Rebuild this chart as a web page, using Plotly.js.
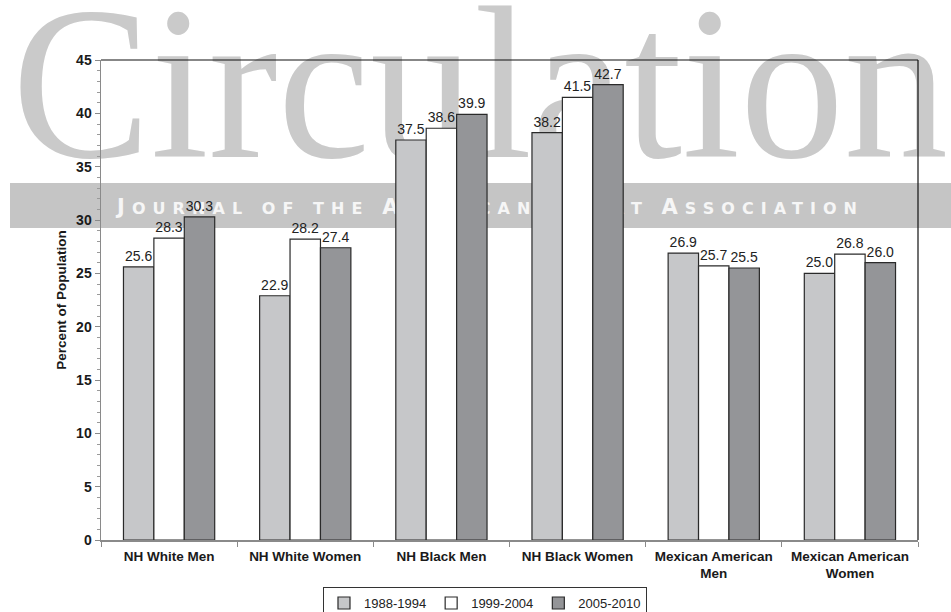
<!DOCTYPE html>
<html>
<head>
<meta charset="utf-8">
<script src="https://cdn.plot.ly/plotly-3.0.1.min.js"></script>
<style>
  html, body { margin: 0; padding: 0; background: #ffffff; }
  #wrap { position: relative; width: 951px; height: 612px; overflow: hidden; }
  #wm { position: absolute; left: 0; top: 0; z-index: 0; }
  #chart { position: absolute; left: 0; top: 0; width: 951px; height: 612px; z-index: 1; }
</style>
</head>
<body>
<div id="wrap">
  <svg id="wm" width="951" height="612" xmlns="http://www.w3.org/2000/svg">
    <text x="12" y="157" font-family="Liberation Serif, Times New Roman, serif" font-size="218" fill="#cacaca" textLength="936" lengthAdjust="spacingAndGlyphs">Circulation</text>
    <rect x="10" y="183" width="941" height="45" fill="#c5c5c5"/>
    <text x="117" y="214" font-family="DejaVu Sans, sans-serif" font-weight="bold" fill="#f6f6f6" textLength="740" lengthAdjust="spacing"><tspan font-size="21">J</tspan><tspan font-size="16">OURNAL OF THE </tspan><tspan font-size="21">A</tspan><tspan font-size="16">MERICAN </tspan><tspan font-size="21">H</tspan><tspan font-size="16">EART </tspan><tspan font-size="21">A</tspan><tspan font-size="16">SSOCIATION</tspan></text>
  </svg>
  <div id="chart"></div>
</div>
<script>
// ---- data ----
const categories = ["NH White Men", "NH White Women", "NH Black Men", "NH Black Women", "Mexican American<br>Men", "Mexican American<br>Women"];
const seriesNames = ["1988-1994", "1999-2004", "2005-2010"];
const values1988 = [25.6, 22.9, 37.5, 38.2, 26.9, 25.0];
const values1999 = [28.3, 28.2, 38.6, 41.5, 25.7, 26.8];
const values2005 = [30.3, 27.4, 39.9, 42.7, 25.5, 26.0];
const yTitle = "Percent of Population";

const colors = ["#c6c7c9", "#ffffff", "#949598"];
const allValues = [values1988, values1999, values2005];
const FONT = "Liberation Sans, Arial, sans-serif";

const traces = allValues.map((vals, i) => ({
  type: "bar",
  name: seriesNames[i],
  x: categories,
  y: vals,
  marker: { color: colors[i], line: { color: "#2a2a2a", width: 1.2 } },
  texttemplate: "%{y:.1f}",
  textposition: "outside",
  textfont: { family: FONT, size: 14, color: "#222222" },
  cliponaxis: false,
  hoverinfo: "x+y+name"
}));

const layout = {
  width: 951,
  height: 612,
  margin: { l: 101, r: 33, t: 60, b: 72, autoexpand: false },
  paper_bgcolor: "rgba(0,0,0,0)",
  plot_bgcolor: "rgba(0,0,0,0)",
  barmode: "group",
  bargap: 0.33,
  bargroupgap: 0,
  font: { family: FONT, color: "#222222" },
  xaxis: {
    type: "category",
    showline: true,
    linecolor: "#8a8a8a",
    linewidth: 1.5,
    ticks: "outside",
    tickson: "boundaries",
    ticklen: 5,
    tickcolor: "#8a8a8a",
    ticklabelstandoff: 3,
    tickfont: { family: FONT, size: 13.5, color: "#1a1a1a", weight: "bold" },
    showgrid: false,
    zeroline: false,
    automargin: false
  },
  yaxis: {
    range: [0, 45],
    dtick: 5,
    tick0: 0,
    showline: true,
    linecolor: "#8a8a8a",
    linewidth: 1.5,
    ticks: "outside",
    ticklen: 5,
    tickcolor: "#8a8a8a",
    minor: { dtick: 1, ticks: "outside", ticklen: 3, tickcolor: "#9a9a9a", showgrid: false },
    tickfont: { family: FONT, size: 14, color: "#1a1a1a", weight: "bold" },
    showgrid: false,
    zeroline: false,
    automargin: false,
    title: { text: yTitle, font: { family: FONT, size: 13.5, color: "#1a1a1a", weight: "bold" }, standoff: 6 }
  },
  showlegend: true,
  legend: {
    orientation: "h",
    x: 0.47,
    xanchor: "center",
    y: -0.098,
    yanchor: "top",
    bgcolor: "#ffffff",
    bordercolor: "#333333",
    borderwidth: 1,
    itemwidth: 30,
    font: { family: FONT, size: 13, color: "#222222" },
    traceorder: "normal"
  },
  shapes: [
    { type: "line", xref: "paper", yref: "paper", x0: 0, x1: 1, y0: 1, y1: 1, line: { color: "#111111", width: 1.2 } },
    { type: "line", xref: "paper", yref: "paper", x0: 1, x1: 1, y0: 0, y1: 1, line: { color: "#111111", width: 1.2 } }
  ]
};

Plotly.newPlot("chart", traces, layout, { displayModeBar: false, staticPlot: true });
</script>
</body>
</html>
